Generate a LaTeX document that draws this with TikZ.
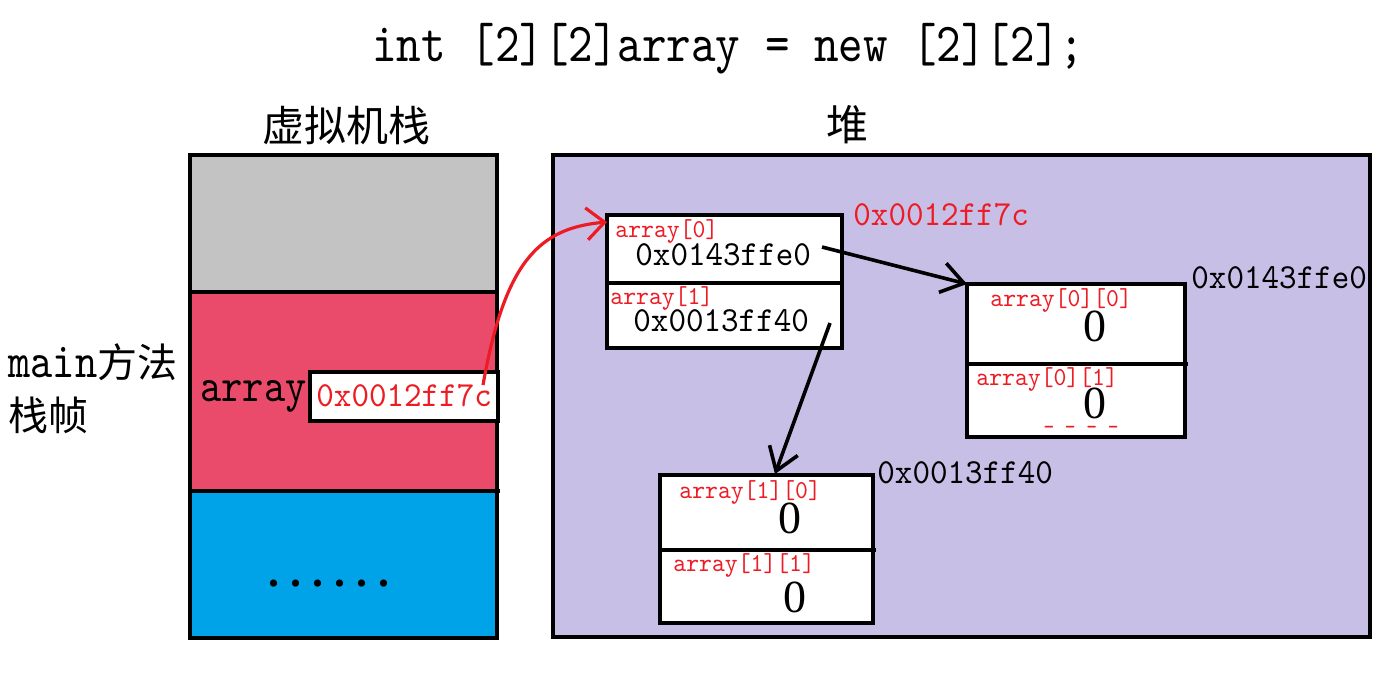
\documentclass[tikz,border=0pt]{standalone}
\usepackage{fontspec}
\usetikzlibrary{arrows.meta}
\newfontfamily\code[FakeStretch=0.85]{lmmono10-regular.otf}
\newfontfamily\codeb[FakeStretch=0.95]{lmmono10-regular.otf}
\newfontfamily\cjk{Noto Sans CJK SC}
\newfontfamily\numfont{Liberation Serif}
\definecolor{stackgray}{RGB}{195,195,195}
\definecolor{stackred}{RGB}{235,75,106}
\definecolor{stackblue}{RGB}{0,162,232}
\definecolor{heapfill}{RGB}{200,191,231}
\definecolor{pred}{RGB}{237,28,36}
\begin{document}
\begin{tikzpicture}[x=0.5pt,y=-0.5pt,
  txt/.style={inner sep=0pt, anchor=base west},
  lbl/.style={txt, text=pred, font=\codeb\fontsize{12.9}{14}\selectfont},
  addr/.style={txt, font=\codeb\fontsize{17.6}{20}\selectfont},
  zero/.style={inner sep=0pt, anchor=base, font=\numfont\fontsize{23}{25}\selectfont},
  cjkt/.style={inner sep=0pt, anchor=center, font=\cjk\fontsize{21}{24}\selectfont},
  frame/.style={line width=2.2pt},
  cell/.style={draw, line width=2.2pt, fill=white, inner sep=0pt, outer sep=0pt, anchor=north west},
  ptr/.style={line width=1.8pt, -{Straight Barb[length=11pt,width=15pt]}},
  redptr/.style={draw=pred, line width=1.6pt, -{Straight Barb[length=9pt,width=16pt]}}]
\useasboundingbox (0,0) rectangle (1400,677);
\fill[white] (0,0) rectangle (1400,677);

% title
\node[txt, font=\code\fontsize{27.5}{30}\selectfont] (title) at (372,61) {int [2][2]array = new [2][2];};

% headings
\node[cjkt] (vmstack) at (346,126) {虚拟机栈};
\node[cjkt] (heap) at (847,125) {堆};
\node[txt, font=\fontsize{20}{24}\selectfont] (mainlbl) at (8,377) {{\code\fontsize{24.9}{26}\selectfont main}{\cjk 方法}};
\node[txt, font=\cjk\fontsize{20}{24}\selectfont] (framelbl) at (8,430) {栈帧};

% stack
\fill[stackgray] (190,155) rectangle (497,292);
\fill[stackred] (190,292) rectangle (497,491);
\fill[stackblue] (190,491) rectangle (497,638);
\draw[frame] (190,155) rectangle (497,638);
\draw[frame] (188,292) -- (497,292);
\draw[frame] (190,491) -- (500,491);
\node[cell, minimum width=94pt, minimum height=24.5pt] (refbox) at (310,372) {};
\node[txt, font=\code\fontsize{23.8}{26}\selectfont] (arrname) at (200,401) {array};
\node[txt, text=pred, font=\codeb\fontsize{17.6}{20}\selectfont] (refval) at (316,406) {0x0012ff7c};
\node[inner sep=0pt, anchor=base, font=\numfont\bfseries\fontsize{22}{22}\selectfont] (dots) at (329,586) {.\hspace{5.5pt}.\hspace{5.5pt}.\hspace{5.5pt}.\hspace{5.5pt}.\hspace{5.5pt}.};

% heap
\draw[frame, fill=heapfill] (553,155) rectangle (1370,637);

% box A
\node[cell, minimum width=117.5pt, minimum height=66.5pt] (boxA) at (607,215) {};
\draw[frame] (607,283) -- (842,283);
\node[lbl] (a0lbl) at (615,237) {array[0]};
\node[addr] (a0val) at (635,265) {0x0143ffe0};
\node[lbl] (a1lbl) at (610,304) {array[1]};
\node[addr] (a1val) at (633,331) {0x0013ff40};
\node[addr, text=pred] (addrA) at (853,225) {0x0012ff7c};

% box B
\node[cell, minimum width=109pt, minimum height=76.5pt] (boxB) at (967,284) {};
\draw[frame] (967,364) -- (1188,364);
\node[lbl] (b0lbl) at (990,306) {array[0][0]};
\node[zero] (b0val) at (1095,341) {0};
\node[lbl] (b1lbl) at (976,385) {array[0][1]};
\node[zero] (b1val) at (1095,418) {0};
\node[inner sep=0pt, text=pred, font=\code\fontsize{12}{12}\selectfont] (bdash) at (1081,430) {- - - -};
\node[addr] (addrB) at (1191,288) {0x0143ffe0};

% box C
\node[cell, minimum width=106.5pt, minimum height=74pt] (boxC) at (660,475) {};
\draw[frame] (660,550) -- (876,550);
\node[lbl] (c0lbl) at (679,498) {array[1][0]};
\node[zero] (c0val) at (790,533) {0};
\node[lbl] (c1lbl) at (673,571) {array[1][1]};
\node[zero] (c1val) at (795,612) {0};
\node[addr] (addrC) at (877,483) {0x0013ff40};

% connectors
\coordinate (r0) at (483,385);
\coordinate (r1) at (607,222);
\coordinate (p0) at (822,247);
\coordinate (p1) at (830,323);
\coordinate (q1) at (775,474);
\draw[redptr] (r0) .. controls (505,260) and (540,228) .. (r1);
\draw[ptr] (p0) -- (boxB.north west);
\draw[ptr] (p1) -- (q1);
\end{tikzpicture}
\end{document}
